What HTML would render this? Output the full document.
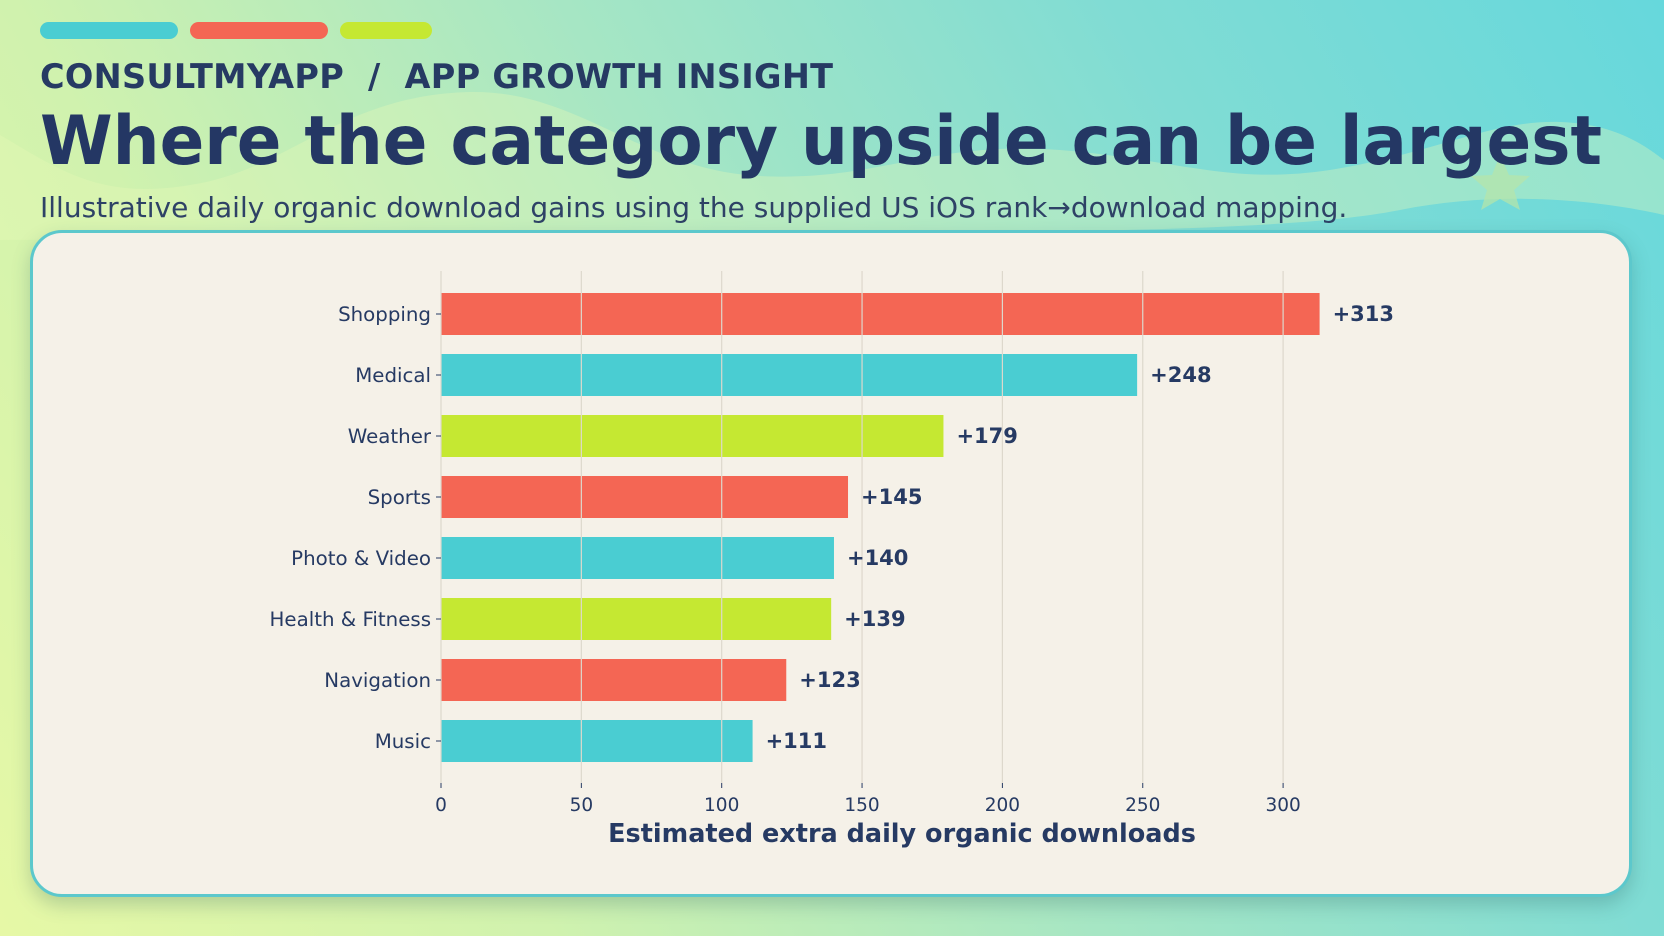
<!DOCTYPE html>
<html><head><meta charset="utf-8"><style>
html,body{margin:0;padding:0;width:1664px;height:936px;overflow:hidden;font-family:"DejaVu Sans","Liberation Sans",sans-serif;}
#bg{position:absolute;left:0;top:0;width:1664px;height:936px;background:linear-gradient(60deg,#e6f8a6 0%,#d0f2ae 25%,#a6e6c4 50%,#80dcd4 75%,#66d8dc 100%);}
.pill{position:absolute;top:22px;height:17px;border-radius:9px;}
#brand{position:absolute;left:40px;top:57px;font-size:33.5px;font-weight:bold;color:#263a63;letter-spacing:0.3px;white-space:pre;}
#title{position:absolute;left:40px;top:102px;font-size:68px;font-weight:bold;color:#243764;white-space:nowrap;transform-origin:0 0;transform:scaleX(0.969);}
#sub{position:absolute;left:40px;top:191px;font-size:28px;color:#2e4266;white-space:nowrap;}
#panel{position:absolute;left:30px;top:230px;width:1596px;height:661px;background:#f5f1e8;border:3px solid #5cc8cc;border-radius:32px;box-shadow:0 8px 18px rgba(40,90,90,0.25);}
svg#chart{position:absolute;left:0;top:0;}
</style></head><body>
<div id="bg">
<svg width="1664" height="936" style="position:absolute;left:0;top:0">
<path d="M0,135 C60,170 100,200 190,185 C290,170 340,95 470,92 C580,90 640,170 760,176 C880,182 930,140 1060,150 C1180,160 1230,185 1330,170 C1440,152 1490,120 1560,122 C1620,124 1650,150 1664,160 L1664,215 C1600,200 1500,190 1400,210 C1300,230 1100,230 900,235 L0,240 Z" fill="#e8f9b8" opacity="0.35"/>
<polygon points="1500,155 1509,175 1530,176 1514,190 1520,210 1500,199 1481,210 1487,190 1471,176 1492,175" fill="#b8e6a8" opacity="0.7"/>
</svg>
</div>
<div class="pill" style="left:40px;width:138px;background:#4acdd2"></div>
<div class="pill" style="left:190px;width:138px;background:#f46654"></div>
<div class="pill" style="left:340px;width:92px;background:#c5e832"></div>
<div id="brand">CONSULTMYAPP  /  APP GROWTH INSIGHT</div>
<div id="title">Where the category upside can be largest</div>
<div id="sub">Illustrative daily organic download gains using the supplied US iOS rank→download mapping.</div>
<div id="panel"></div>
<svg id="chart" width="1664" height="936"></svg>
<script>
const categories=["Shopping","Medical","Weather","Sports","Photo & Video","Health & Fitness","Navigation","Music"];
const values=[313,248,179,145,140,139,123,111];
const ticks=[0,50,100,150,200,250,300];
const palette=["#f46654","#4acdd2","#c5e832"];
const NS="http://www.w3.org/2000/svg";
const svg=document.getElementById('chart');
const x=v=>441+v*2.807;
const y=i=>314+i*61;
const top0=271,bot=783,bh=42;
function mk(t,a){const e=document.createElementNS(NS,t);for(const k in a)e.setAttribute(k,a[k]);svg.appendChild(e);return e;}
categories.forEach((c,i)=>{
  const r=mk('rect',{x:x(0),y:y(i)-bh/2,width:x(values[i])-x(0),height:bh,fill:palette[i%3]});
  
  
});
ticks.forEach(t=>{
  const l=mk('line',{x1:x(t),x2:x(t),y1:top0,y2:bot,stroke:'#ddd8cc','stroke-width':1.2});
  
  
  const tk=mk('line',{x1:x(t),x2:x(t),y1:bot,y2:bot+5,stroke:'#263a63','stroke-width':1});
  
  
  const tx=mk('text',{x:x(t),y:811,'text-anchor':'middle','font-size':18.5,fill:'#263a63'});
  tx.textContent=t;
  
  
});
categories.forEach((c,i)=>{
  const tk=mk('line',{x1:x(0)-5,x2:x(0),y1:y(i),y2:y(i),stroke:'#263a63','stroke-width':1});
  
  
  const t=mk('text',{x:431,y:y(i)+7,'text-anchor':'end','font-size':19.8,fill:'#263a63'});
  t.textContent=c;
  
  
  const v=mk('text',{x:x(values[i])+13,y:y(i)+7,'font-size':21,'font-weight':'bold',fill:'#263a63'});
  v.textContent='+'+values[i];
  
  
});
const xt=mk('text',{x:902,y:842,'text-anchor':'middle','font-size':25.5,'font-weight':'bold',fill:'#263a63'});
xt.textContent='Estimated extra daily organic downloads';


</script>
</body></html>
